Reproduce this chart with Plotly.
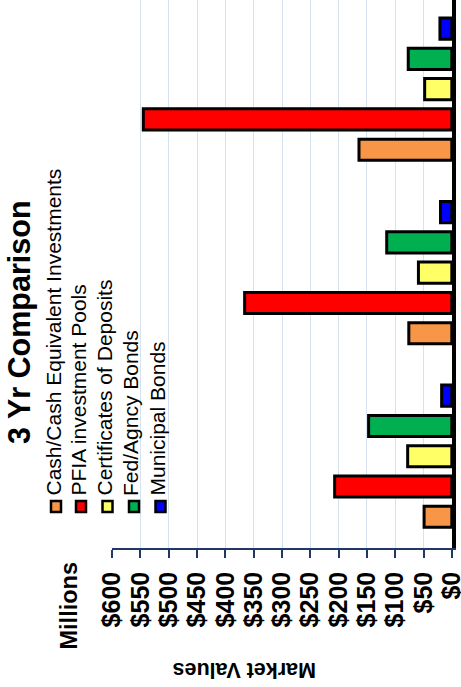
import plotly.graph_objects as go

# ---- data ----
years = ["Year 1", "Year 2", "Year 3"]
series_names = [
    "Cash/Cash Equivalent Investments",
    "PFIA investment Pools",
    "Certificates of Deposits",
    "Fed/Agncy Bonds",
    "Municipal Bonds",
]
cash = [49, 76, 164]
pfia = [207, 366, 545]
cds = [78, 59, 48]
fed = [147, 115, 77]
muni = [18, 20, 21]
tick_values = [0, 50, 100, 150, 200, 250, 300, 350, 400, 450, 500, 550, 600]
tick_labels = ["$0", "$50", "$100", "$150", "$200", "$250", "$300", "$350",
               "$400", "$450", "$500", "$550", "$600"]
colors = ["#F79646", "#FF0000", "#FFFF66", "#00B050", "#0000FF"]

W, H = 461, 687
ML, MR, MT, MB = 112, 9, 0, 139
PW = W - ML - MR
PH = H - MT - MB
FONT = "Arial, Liberation Sans, sans-serif"
NAVY = "#1F3864"


def px2x(px):
    return (px - ML) / PW


def py2y(py):
    return (H - MB - py) / PH


fig = go.Figure()
for name, vals, col in zip(series_names, [cash, pfia, cds, fed, muni], colors):
    fig.add_trace(go.Bar(
        x=vals, y=years, orientation="h", name=name,
        marker=dict(color=col, line=dict(color="black", width=3)),
        showlegend=False,
    ))

annotations = []
shapes = []

# title
annotations.append(dict(text="<b>3 Yr Comparison</b>", x=px2x(19), y=py2y(322),
                        xref="paper", yref="paper", showarrow=False, textangle=-90,
                        xanchor="center", yanchor="middle",
                        font=dict(family=FONT, size=30.5, color="black")))

# legend (rotated)
leg_x = [56, 81, 107.5, 134, 160.5]
for name, col, lx in zip(series_names, colors, leg_x):
    annotations.append(dict(text=name, x=px2x(lx - 3), y=py2y(498),
                            xref="paper", yref="paper", showarrow=False, textangle=-90,
                            xanchor="center", yanchor="bottom",
                            font=dict(family=FONT, size=21, color="black")))
    shapes.append(dict(type="rect", xref="paper", yref="paper",
                       x0=px2x(lx - 5), x1=px2x(lx + 5),
                       y0=py2y(501), y1=py2y(512),
                       line=dict(color="black", width=2.5), fillcolor=col))

# Millions
annotations.append(dict(text="<b>Millions</b>", x=px2x(68), y=py2y(606.5),
                        xref="paper", yref="paper", showarrow=False, textangle=-90,
                        xanchor="center", yanchor="middle",
                        font=dict(family=FONT, size=23.5, color="black")))
# Market Values (upside down)
annotations.append(dict(text="<b>Market Values</b>", x=px2x(245), y=py2y(670.5),
                        xref="paper", yref="paper", showarrow=False, textangle=180,
                        xanchor="center", yanchor="middle",
                        font=dict(family=FONT, size=21.5, color="black")))

XR = [600.3, -0.3]

fig.update_layout(
    width=W, height=H,
    margin=dict(l=ML, r=MR, t=MT, b=MB, pad=0),
    paper_bgcolor="white", plot_bgcolor="white",
    barmode="group", bargap=0.1755, bargroupgap=0.3,
    font=dict(family=FONT, color="black"),
    xaxis=dict(
        range=XR, tickmode="array", tickvals=tick_values, ticktext=tick_labels,
        tickangle=-90, ticks="outside", ticklen=8, tickwidth=1.5, tickcolor=NAVY,
        showline=True, linecolor=NAVY, linewidth=1.5,
        showgrid=True, gridcolor="#D8E1EE", gridwidth=1,
        zeroline=False, automargin=False,
        tickfont=dict(family=FONT, size=25, color="black", weight="bold"),
        ticklabelstandoff=4, ticklabeloverflow="allow",
    ),
    xaxis2=dict(
        range=XR, overlaying="x", anchor="y", side="bottom",
        tickmode="array", tickvals=tick_values, showticklabels=False,
        ticks="inside", ticklen=8, tickwidth=1.5, tickcolor=NAVY,
        showgrid=False, zeroline=False, showline=False, automargin=False,
    ),
    yaxis=dict(
        range=[-0.5, 2.486], showticklabels=False, ticks="",
        showline=True, side="right", linecolor="black", linewidth=4,
        showgrid=False, zeroline=False, automargin=False,
    ),
    annotations=annotations,
    shapes=shapes,
)

fig.write_html(
    "out.html",
    config={"displayModeBar": False},
    post_script="document.body.style.margin='0px';document.body.style.padding='0px';",
)
